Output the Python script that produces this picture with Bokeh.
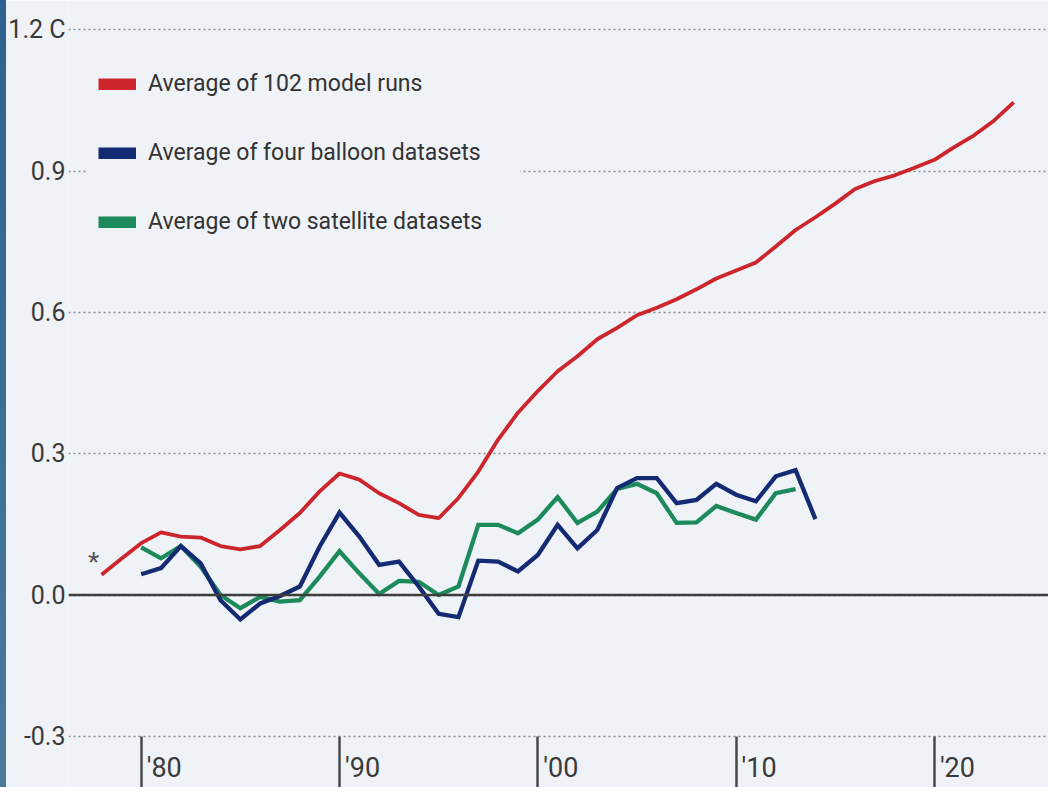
from bokeh.plotting import figure
from bokeh.models import Range1d, FixedTicker, Span, Legend, LegendItem, Label, InlineStyleSheet
from bokeh.embed import file_html
from bokeh.resources import INLINE

# ---------------- data ----------------
model_years = list(range(1978, 2025))
model_runs = [0.043, 0.077, 0.110, 0.133, 0.124, 0.122, 0.104, 0.097, 0.104, 0.138,
              0.174, 0.220, 0.258, 0.245, 0.216, 0.195, 0.170, 0.163, 0.206, 0.262,
              0.330, 0.387, 0.433, 0.475, 0.507, 0.543, 0.567, 0.594, 0.610, 0.628,
              0.649, 0.672, 0.689, 0.706, 0.740, 0.775, 0.802, 0.831, 0.862, 0.879,
              0.891, 0.907, 0.924, 0.951, 0.976, 1.007, 1.046]

balloon_years = list(range(1980, 2015))
balloon = [0.044, 0.057, 0.104, 0.067, -0.011, -0.052, -0.018, -0.002, 0.018, 0.103,
           0.175, 0.124, 0.064, 0.071, 0.018, -0.040, -0.047, 0.073, 0.071, 0.050,
           0.085, 0.149, 0.099, 0.138, 0.227, 0.248, 0.248, 0.195, 0.202, 0.236,
           0.213, 0.199, 0.252, 0.265, 0.161]

satellite_years = list(range(1980, 2014))
satellite = [0.101, 0.078, 0.104, 0.060, 0.000, -0.028, -0.004, -0.014, -0.011, 0.039,
             0.093, 0.046, 0.002, 0.030, 0.028, 0.000, 0.018, 0.149, 0.149, 0.131,
             0.160, 0.208, 0.153, 0.177, 0.225, 0.236, 0.216, 0.153, 0.154, 0.189,
             0.174, 0.160, 0.216, 0.225]

series_labels = ["Average of 102 model runs",
                 "Average of four balloon datasets",
                 "Average of two satellite datasets"]
x_ticks = [1980, 1990, 2000, 2010, 2020]
x_tick_labels = ["'80", "'90", "'00", "'10", "'20"]
y_ticks = [-0.3, 0.0, 0.3, 0.6, 0.9, 1.2]
y_tick_labels = ["-0.3", "0.0", "0.3", "0.6", "0.9", "1.2 C"]
note_text = "*"

# ---------------- styling / layout ----------------
BG = "#eff2f7"
RED = "#cc262c"
BLUE = "#142a72"
GREEN = "#1d8a5c"
FONT = "Roboto"

W, H = 1048, 787
LEFT = 68
ZERO_PX = 594.5       # canvas px of value 0
PX_PER_UNIT = 471.0
YEAR0_PX = 140.7      # canvas px of 1980
PX_PER_YEAR = 19.83

y_end = ZERO_PX / PX_PER_UNIT
y_start = (ZERO_PX - H) / PX_PER_UNIT
x_start = 1980 + (LEFT - YEAR0_PX) / PX_PER_YEAR
x_end = 1980 + (W - YEAR0_PX) / PX_PER_YEAR

p = figure(width=W, height=H, output_backend="svg", toolbar_location=None,
           x_range=Range1d(x_start, x_end), y_range=Range1d(y_start, y_end),
           min_border_left=LEFT, min_border_right=0, min_border_top=0, min_border_bottom=0)
p.background_fill_color = BG
p.border_fill_color = BG
p.outline_line_color = None

# thin steel-blue stripe along the left edge of the page (decoration)
p.stylesheets = [InlineStyleSheet(css="""
:host::after {
  content: "";
  position: absolute;
  left: 0; top: 0;
  width: 6px; height: 787px;
  background: linear-gradient(#30608f, #4a7b9b);
  z-index: 100;
  pointer-events: none;
}
""")]

# grid
p.xgrid.visible = False
p.ygrid.ticker = FixedTicker(ticks=y_ticks)
p.ygrid.grid_line_color = "#868c96"
p.ygrid.grid_line_width = 1.6
p.ygrid.grid_line_dash = "2 3"

# zero line
p.add_layout(Span(location=0, dimension="width", line_color="#3d3d3d", line_width=2.5))

# series
p.line(satellite_years, satellite, line_color=GREEN, line_width=4.3, line_join="miter")
p.line(balloon_years, balloon, line_color=BLUE, line_width=4.3, line_join="miter")
p.line(model_years, model_runs, line_color=RED, line_width=3.8)

# asterisk note near start of model line
p.add_layout(Label(x=model_years[0] - 0.4, y=model_runs[0] + 0.028, text=note_text,
                   text_font=FONT, text_font_size="26px", text_color="#555555",
                   text_align="center", text_baseline="middle"))

# y axis
ya = p.yaxis[0]
ya.ticker = FixedTicker(ticks=y_ticks)
ya.major_label_overrides = {t: s for t, s in zip(y_ticks, y_tick_labels)}
ya.axis_line_color = None
ya.major_tick_line_color = None
ya.minor_tick_line_color = None
ya.major_tick_out = 0
ya.major_tick_in = 0
ya.minor_tick_out = 0
ya.major_label_standoff = 3
ya.major_label_text_font = FONT
ya.major_label_text_font_size = "25px"
ya.major_label_text_color = "#3a3a3a"

# x axis, drawn at -0.3
xa = p.xaxis[0]
xa.fixed_location = -0.3
xa.ticker = FixedTicker(ticks=x_ticks)
xa.major_label_overrides = {t: "\u2009" + s for t, s in zip(x_ticks, x_tick_labels)}
xa.axis_line_color = None
xa.minor_tick_line_color = None
xa.major_tick_line_color = "#4a4a4a"
xa.major_tick_line_width = 2.5
xa.major_tick_out = 52
xa.major_tick_in = 0
xa.major_label_orientation = -1e-6
xa.major_label_standoff = -20
xa.major_label_text_font = FONT
xa.major_label_text_font_size = "27px"
xa.major_label_text_color = "#3a3a3a"

# legend with thick swatch proxies (hidden copies of each series)
series = [(model_years, model_runs, RED), (balloon_years, balloon, BLUE),
          (satellite_years, satellite, GREEN)]
items = []
for lab, (xs, ys, c) in zip(series_labels, series):
    r = p.line(xs, ys, line_color=c, line_width=12, line_cap="butt", visible=False)
    items.append(LegendItem(label=lab, renderers=[r]))
LEG_H = 2 * 12 + 3 * 31 + 2 * 38
legend = Legend(items=items, location=(86 - LEFT, H - 56 - LEG_H),
                padding=12, spacing=38, margin=0,
                glyph_width=38, glyph_height=12, label_standoff=12,
                label_height=31, label_width=360,
                label_text_font=FONT, label_text_font_size="23px",
                label_text_color="#333333",
                background_fill_color=BG, background_fill_alpha=1.0,
                border_line_alpha=0, inactive_fill_alpha=0)
p.add_layout(legend, "center")

open("out.html", "w").write(file_html(p, INLINE))
